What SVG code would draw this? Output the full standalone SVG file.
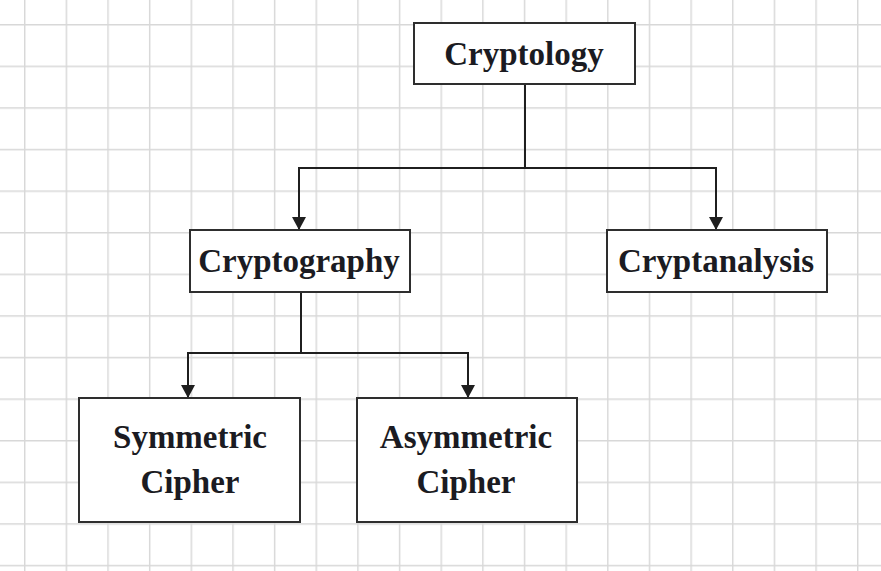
<svg xmlns="http://www.w3.org/2000/svg" width="881" height="571" viewBox="0 0 881 571">
  <defs>
    <pattern id="grid" x="24" y="24" width="41.65" height="41.6" patternUnits="userSpaceOnUse">
      <path d="M0.7 0V41.6M0 0.7H41.65" fill="none" stroke="#d8d8d8" stroke-width="1.5"/>
    </pattern>
    <marker id="arrow" viewBox="0 0 13 14" refX="13" refY="7" markerWidth="13" markerHeight="14" markerUnits="userSpaceOnUse" orient="auto">
      <path d="M0 0L13 7L0 14Z" fill="#1f1f1f"/>
    </marker>
    <style>
      .box { fill: #ffffff; stroke: #2e2e2e; stroke-width: 2; }
      .label { font-family: "Liberation Serif", "Times New Roman", serif; font-weight: bold; font-size: 33px; fill: #1b1b22; text-anchor: middle; }
      .link { fill: none; stroke: #1f1f1f; stroke-width: 2; }
    </style>
  </defs>

  <!-- background grid -->
  <rect width="881" height="571" fill="#ffffff"/>
  <rect width="881" height="571" fill="url(#grid)"/>

  <!-- connectors -->
  <g id="connectors">
    <path class="link" d="M525 84V168H299V230" marker-end="url(#arrow)"/>
    <path class="link" d="M525 168H716V230" marker-end="url(#arrow)"/>
    <path class="link" d="M301 292V353H188V398" marker-end="url(#arrow)"/>
    <path class="link" d="M301 353H468V398" marker-end="url(#arrow)"/>
  </g>

  <g id="cryptology">
    <rect class="box" x="414" y="23" width="221" height="61"/>
    <text class="label" x="524" y="65">Cryptology</text>
  </g>

  <g id="cryptography">
    <rect class="box" x="190" y="230" width="220" height="62"/>
    <text class="label" x="299" y="272">Cryptography</text>
  </g>

  <g id="cryptanalysis">
    <rect class="box" x="607" y="230" width="220" height="62"/>
    <text class="label" x="716" y="272">Cryptanalysis</text>
  </g>

  <g id="symmetric-cipher">
    <rect class="box" x="79" y="398" width="221" height="124"/>
    <text class="label" x="190" y="448">Symmetric</text>
    <text class="label" x="190" y="493">Cipher</text>
  </g>

  <g id="asymmetric-cipher">
    <rect class="box" x="357" y="398" width="220" height="124"/>
    <text class="label" x="466" y="448">Asymmetric</text>
    <text class="label" x="466" y="493">Cipher</text>
  </g>
</svg>
